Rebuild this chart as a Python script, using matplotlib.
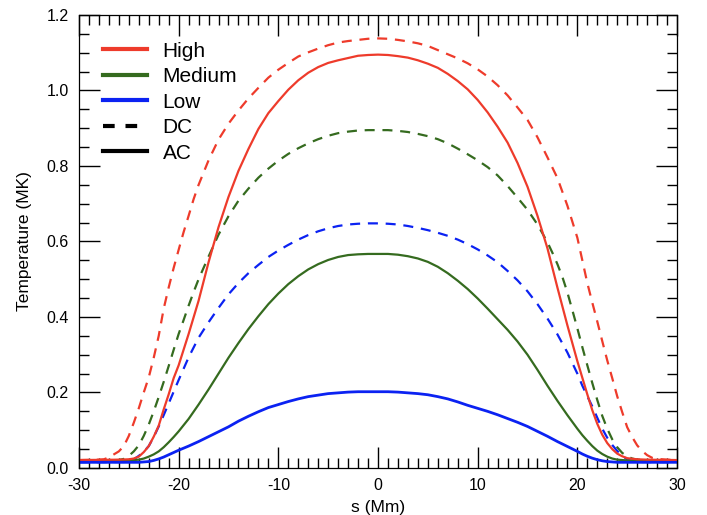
import matplotlib
matplotlib.use("Agg")
import matplotlib.pyplot as plt
from matplotlib.lines import Line2D
from matplotlib.ticker import MultipleLocator, FormatStrFormatter

# --------------------------------------------------------------------------- #
# Temperature profiles along the loop, T(s) in MK
# --------------------------------------------------------------------------- #
high_dc_s = [-30, -28, -27.5, -27, -26.5, -26, -25.5, -25, -24.5, -24, -23.5, -23,
             -22.5, -22, -21.5, -21, -20.5, -20, -19.5, -19, -18.5, -18, -17, -16,
             -15, -14, -13, -12, -11, -10, -9, -8, -7, -6, -5, -4, -3, -2, -1, 0,
             1, 2, 3, 4, 5, 6, 7, 8, 9, 10, 11, 12, 13, 14, 15, 16, 17, 18, 19,
             20, 20.5, 21, 21.5, 22, 22.5, 23, 23.5, 24, 24.5, 25, 25.5, 26, 26.5,
             27, 27.5, 28, 29, 30]
high_dc_T = [0.021, 0.022, 0.023, 0.028, 0.036, 0.044, 0.058, 0.085, 0.120, 0.158,
             0.200, 0.240, 0.292, 0.350, 0.422, 0.478, 0.530, 0.578, 0.625, 0.668,
             0.712, 0.750, 0.815, 0.870, 0.912, 0.947, 0.979, 1.007, 1.034, 1.055,
             1.073, 1.090, 1.101, 1.111, 1.120, 1.127, 1.131, 1.134, 1.137, 1.138,
             1.137, 1.134, 1.130, 1.125, 1.118, 1.107, 1.096, 1.085, 1.072, 1.056,
             1.037, 1.014, 0.987, 0.955, 0.922, 0.876, 0.823, 0.768, 0.695, 0.610,
             0.550, 0.490, 0.438, 0.388, 0.336, 0.285, 0.238, 0.190, 0.148, 0.108,
             0.082, 0.060, 0.045, 0.034, 0.027, 0.024, 0.022, 0.021]

high_ac_s = [-30, -26, -25, -24.5, -24, -23.5, -23, -22.5, -22, -21.5, -21, -20.5,
             -20, -19, -18, -17, -16, -15, -14, -13, -12, -11, -10, -9, -8, -7,
             -6, -5, -4, -3, -2, -1, 0, 1, 2, 3, 4, 5, 6, 7, 8, 9, 10, 11, 12,
             13, 14, 15, 16, 17, 18, 19, 20, 21, 21.5, 22, 22.5, 23, 23.5, 24,
             24.5, 25, 26, 27, 30]
high_ac_T = [0.021, 0.022, 0.023, 0.025, 0.030, 0.042, 0.058, 0.083, 0.112, 0.155,
             0.195, 0.238, 0.272, 0.355, 0.443, 0.545, 0.638, 0.718, 0.787, 0.845,
             0.898, 0.940, 0.972, 1.002, 1.027, 1.047, 1.062, 1.073, 1.080, 1.086,
             1.092, 1.094, 1.095, 1.094, 1.091, 1.087, 1.080, 1.071, 1.060, 1.044,
             1.025, 1.003, 0.975, 0.942, 0.904, 0.862, 0.808, 0.745, 0.668, 0.582,
             0.478, 0.378, 0.283, 0.195, 0.153, 0.117, 0.088, 0.066, 0.050, 0.038,
             0.031, 0.026, 0.023, 0.022, 0.021]

med_dc_s = [-30, -26, -25.5, -25, -24.5, -24, -23.5, -23, -22.5, -22, -21.5, -21,
            -20.5, -20, -19.5, -19, -18.5, -18, -17, -16, -15, -14, -13, -12, -11,
            -10, -9, -8, -7, -6, -5, -4, -3, -2, -1, 0, 1, 2, 3, 4, 5, 6, 7, 8,
            9, 10, 11, 12, 13, 14, 15, 16, 17, 17.5, 18, 18.5, 19, 19.5, 20, 20.5,
            21, 21.5, 22, 22.5, 23, 23.5, 24, 24.5, 25, 25.5, 26, 27, 30]
med_dc_T = [0.020, 0.021, 0.024, 0.032, 0.044, 0.060, 0.085, 0.115, 0.150, 0.188,
            0.228, 0.270, 0.313, 0.355, 0.392, 0.430, 0.466, 0.500, 0.560, 0.618,
            0.667, 0.708, 0.740, 0.769, 0.793, 0.814, 0.832, 0.847, 0.860, 0.871,
            0.880, 0.887, 0.891, 0.894, 0.895, 0.895, 0.895, 0.893, 0.890, 0.885,
            0.879, 0.871, 0.860, 0.846, 0.831, 0.815, 0.797, 0.775, 0.747, 0.716,
            0.684, 0.645, 0.598, 0.570, 0.540, 0.506, 0.465, 0.418, 0.370, 0.320,
            0.272, 0.225, 0.180, 0.138, 0.104, 0.076, 0.055, 0.040, 0.031, 0.025,
            0.022, 0.021, 0.020]

med_ac_s = [-30, -25, -24, -23.5, -23, -22.5, -22, -21.5, -21, -20.5, -20, -19,
            -18, -17, -16, -15, -14, -13, -12, -11, -10, -9, -8, -7, -6, -5, -4,
            -3, -2, -1, 0, 1, 2, 3, 4, 5, 6, 7, 8, 9, 10, 11, 12, 13, 14, 15, 16,
            17, 18, 19, 20, 20.5, 21, 21.5, 22, 22.5, 23, 23.5, 24, 25, 30]
med_ac_T = [0.019, 0.020, 0.022, 0.025, 0.030, 0.036, 0.044, 0.055, 0.068, 0.082,
            0.097, 0.130, 0.168, 0.208, 0.250, 0.292, 0.331, 0.368, 0.402, 0.434,
            0.462, 0.487, 0.508, 0.526, 0.540, 0.551, 0.559, 0.564, 0.566, 0.567,
            0.567, 0.567, 0.565, 0.561, 0.555, 0.546, 0.533, 0.516, 0.496, 0.474,
            0.449, 0.422, 0.394, 0.366, 0.335, 0.300, 0.260, 0.218, 0.178, 0.140,
            0.104, 0.087, 0.072, 0.058, 0.046, 0.037, 0.030, 0.025, 0.022, 0.020,
            0.019]

low_dc_s = [-30, -25.5, -25, -24.5, -24, -23.5, -23, -22.5, -22, -21.5, -21, -20.5,
            -20, -19, -18, -17, -16, -15, -14, -13, -12, -11, -10, -9, -8, -7, -6,
            -5, -4, -3, -2, -1, 0, 1, 2, 3, 4, 5, 6, 7, 8, 9, 10, 11, 12, 13, 14,
            15, 16, 17, 18, 19, 20, 20.5, 21, 21.5, 22, 22.5, 23, 23.5, 24, 24.5,
            25, 25.5, 26, 30]
low_dc_T = [0.015, 0.016, 0.018, 0.023, 0.032, 0.043, 0.058, 0.082, 0.110, 0.140,
            0.171, 0.202, 0.233, 0.293, 0.345, 0.386, 0.424, 0.460, 0.490, 0.516,
            0.538, 0.559, 0.576, 0.591, 0.605, 0.617, 0.627, 0.635, 0.641, 0.645,
            0.647, 0.648, 0.648, 0.647, 0.645, 0.641, 0.636, 0.630, 0.623, 0.615,
            0.605, 0.593, 0.579, 0.563, 0.545, 0.522, 0.497, 0.468, 0.434, 0.396,
            0.354, 0.306, 0.250, 0.218, 0.190, 0.163, 0.133, 0.104, 0.080, 0.061,
            0.045, 0.032, 0.023, 0.018, 0.016, 0.015]

low_ac_s = [-30, -24, -23, -22.5, -22, -21.5, -21, -20.5, -20, -19, -18, -17, -16,
            -15, -14, -13, -12, -11, -10, -9, -8, -7, -6, -5, -4, -3, -2, 0, 1, 2,
            3, 4, 5, 6, 7, 8, 9, 10, 11, 12, 13, 14, 15, 16, 17, 18, 19, 20, 20.5,
            21, 21.5, 22, 22.5, 23, 24, 30]
low_ac_T = [0.015, 0.015, 0.017, 0.020, 0.024, 0.029, 0.035, 0.041, 0.047, 0.058,
            0.070, 0.083, 0.096, 0.109, 0.124, 0.137, 0.149, 0.160, 0.168, 0.176,
            0.183, 0.189, 0.193, 0.197, 0.199, 0.201, 0.202, 0.202, 0.202, 0.201,
            0.199, 0.197, 0.194, 0.189, 0.183, 0.175, 0.166, 0.158, 0.150, 0.141,
            0.131, 0.121, 0.110, 0.097, 0.084, 0.070, 0.057, 0.044, 0.037, 0.031,
            0.026, 0.022, 0.019, 0.017, 0.015, 0.015]

RED = "#ee3b2b"
GREEN = "#356b1f"
BLUE = "#0b22f2"

plt.rcParams["font.family"] = ["Liberation Sans", "DejaVu Sans"]
plt.rcParams["axes.unicode_minus"] = False

fig = plt.figure(figsize=(7.07, 5.15), dpi=100)
ax = fig.add_axes([0.1117, 0.0913, 0.8459, 0.8796])

dash = (4.5, 3.5)
lw = 1.6
ax.plot(high_dc_s, high_dc_T, color=RED, lw=lw, dashes=dash)
ax.plot(med_dc_s, med_dc_T, color=GREEN, lw=lw, dashes=dash)
ax.plot(low_dc_s, low_dc_T, color=BLUE, lw=lw, dashes=dash)
ax.plot(med_ac_s, med_ac_T, color=GREEN, lw=lw)
ax.plot(high_ac_s, high_ac_T, color=RED, lw=lw)
ax.plot(low_ac_s, low_ac_T, color=BLUE, lw=2.0)

ax.set_xlim(-30, 30)
ax.set_ylim(0, 1.2)
ax.xaxis.set_major_locator(MultipleLocator(10))
ax.xaxis.set_minor_locator(MultipleLocator(1))
ax.yaxis.set_major_locator(MultipleLocator(0.2))
ax.yaxis.set_minor_locator(MultipleLocator(0.05))
ax.yaxis.set_major_formatter(FormatStrFormatter("%.1f"))
ax.tick_params(which="both", direction="in", top=True, right=True,
               bottom=True, left=True, colors="black", width=1.0,
               labelsize=11.5)
ax.tick_params(which="major", length=15, pad=7.5)
ax.tick_params(which="minor", length=7.5)
for sp in ax.spines.values():
    sp.set_linewidth(0.9)

ax.set_xlabel("s (Mm)", fontsize=12.5, labelpad=5)
ax.set_ylabel("Temperature (MK)", fontsize=12.5, labelpad=10)

handles = [
    Line2D([], [], color=RED, lw=3),
    Line2D([], [], color=GREEN, lw=3),
    Line2D([], [], color=BLUE, lw=3),
    Line2D([], [], color="black", lw=3, dashes=(2.8, 2.6)),
    Line2D([], [], color="black", lw=3),
]
labels = ["High", "Medium", "Low", "DC", "AC"]
ax.legend(handles, labels, loc="upper left", bbox_to_anchor=(0.040, 0.941),
          frameon=False, fontsize=15, handlelength=2.1, handletextpad=0.77,
          labelspacing=0.31, borderpad=0, borderaxespad=0)

fig.savefig("out.png", dpi=100)
